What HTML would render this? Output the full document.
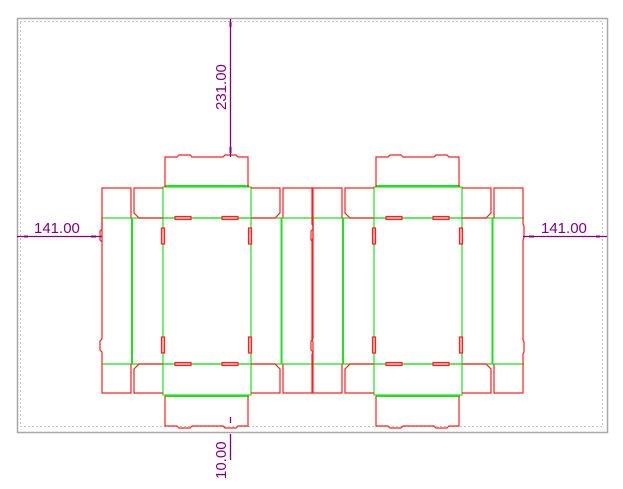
<!DOCTYPE html>
<html><head><style>
body{margin:0;background:#fff;width:623px;height:489px;overflow:hidden}
svg{display:block}
text{font-family:"Liberation Sans",sans-serif;fill:#800080;font-size:15px}
</style></head><body>
<svg width="623" height="489" viewBox="0 0 623 489" xmlns="http://www.w3.org/2000/svg">
<rect x="17.5" y="18.5" width="590" height="414" fill="none" stroke="#a8a8a8" stroke-width="1.5"/>
<rect x="20.5" y="21.5" width="582" height="405" fill="none" stroke="#888" stroke-width="1" stroke-dasharray="1,3"/>
<defs>
<g id="box" fill="none" stroke-width="1.2">
 <g stroke="#20e020">
  <rect x="163" y="187" width="88" height="31"/>
  <rect x="163" y="364" width="88" height="31"/>
  <line x1="165" y1="186" x2="249" y2="186" stroke-width="2"/>
  <line x1="165" y1="396" x2="249" y2="396" stroke-width="2"/>
  <line x1="102" y1="218" x2="313" y2="218"/>
  <line x1="102" y1="364" x2="313" y2="364"/>
  <line x1="132" y1="218" x2="132" y2="364" stroke-width="2"/>
  <line x1="163" y1="218" x2="163" y2="364"/>
  <line x1="251" y1="218" x2="251" y2="364"/>
  <line x1="281.5" y1="218" x2="281.5" y2="364" stroke-width="2"/>
 </g>
 <g stroke="#ff2020">
  <path d="M165 187 V157 H177 L179 155 H190 L192 157 H223 L225 155 H236 L238 157 H248 V187"/>
  <path d="M165 396 V426 H177 L179 428 H190 L192 426 H223 L225 428 H236 L238 426 H248 V396"/>
  <path d="M163 188 H134 V213 L139 218 H163"/>
  <path d="M251 188 H280 V213 L275 218 H251"/>
  <path d="M163 393 H134 V369 L139 364 H163"/>
  <path d="M251 393 H280 V369 L275 364 H251"/>
  <path d="M131 218 V188 H102 V339 L100 341 V350 L102 352 V393 H131 V364"/>
  <path d="M102 218 V229 L100 231 V240 L102 242"/>
  <path d="M283 218 V188 H312 V224 L313 226 V238 L312 240 V340 L313 342 V352 L312 354 V393 H283 V364"/>
  <g fill="#ffb0b0">
  <rect x="175" y="216.5" width="16" height="3"/>
  <rect x="222" y="216.5" width="16" height="3"/>
  <rect x="175" y="362.5" width="16" height="3"/>
  <rect x="222" y="362.5" width="16" height="3"/>
  <rect x="161.5" y="228" width="3" height="16"/>
  <rect x="248.5" y="228" width="3" height="16"/>
  <rect x="161.5" y="337" width="3" height="16"/>
  <rect x="248.5" y="337" width="3" height="16"/>
  </g>
 </g>
</g>
</defs>
<use href="#box"/>
<use href="#box" x="211"/>
<g stroke="#800080" stroke-width="1.3" fill="#800080">
 <line x1="230.5" y1="19" x2="230.5" y2="157"/>
 <rect x="229.5" y="22" width="2" height="5" stroke="none"/>
 <rect x="229.5" y="147" width="2" height="6" stroke="none"/>
 <line x1="17" y1="236.5" x2="102" y2="236.5"/>
 <rect x="24" y="235.5" width="4" height="2" stroke="none"/>
 <rect x="91" y="235.5" width="5" height="2" stroke="none"/>
 <line x1="523" y1="236.5" x2="607" y2="236.5"/>
 <rect x="529" y="235.5" width="5" height="2" stroke="none"/>
 <rect x="596" y="235.5" width="4" height="2" stroke="none"/>
 <line x1="230.5" y1="417" x2="230.5" y2="423" />
 <line x1="230.5" y1="434" x2="230.5" y2="460"/>
</g>
<text transform="translate(226,110) rotate(-90)">231.00</text>
<text x="34" y="233">141.00</text>
<text x="541" y="233">141.00</text>
<text transform="translate(226,479) rotate(-90)">10.00</text>
</svg>
</body></html>
